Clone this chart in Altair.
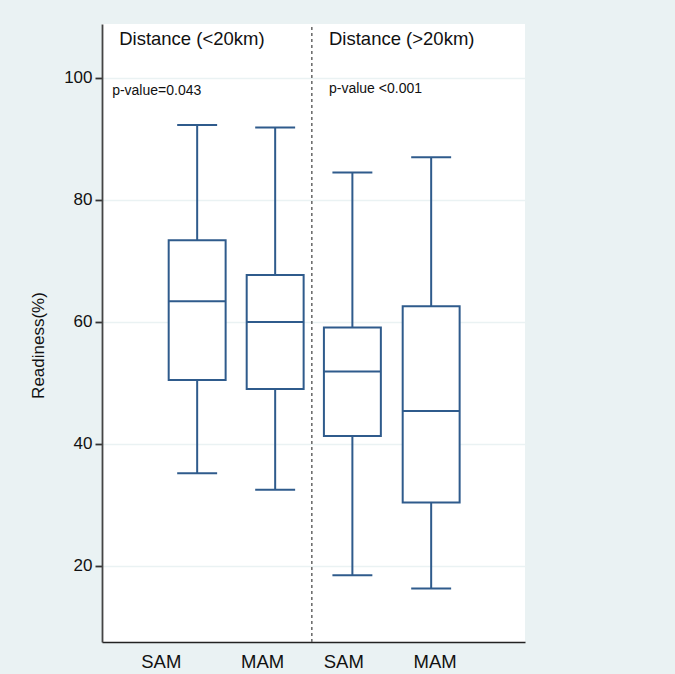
import altair as alt
import pandas as pd

# Box-plot summaries of readiness (%) by malnutrition type and distance
groups = ["SAM", "MAM", "SAM", "MAM"]
distance = ["Distance (<20km)", "Distance (<20km)", "Distance (>20km)", "Distance (>20km)"]
whisker_low = [35.2, 32.5, 18.5, 16.3]
q1 = [50.5, 49.0, 41.3, 30.4]
median = [63.4, 60.0, 51.9, 45.4]
q3 = [73.4, 67.7, 59.1, 62.6]
whisker_high = [92.3, 91.9, 84.5, 87.0]

panels = ["Distance (<20km)", "Distance (>20km)"]
p_values = ["p-value=0.043", "p-value <0.001"]
y_ticks = [20, 40, 60, 80, 100]

# Layout on the horizontal axis (slot units)
box_pos = [1.22, 2.22, 3.21, 4.22]
label_pos = [0.76, 2.06, 3.10, 4.27]
panel_text_pos = [0.22, 2.91]
pvalue_text_pos = [0.13, 2.91]
divider_pos = 2.69
BOX_HALF = 0.365
CAP_HALF = 0.256

X_DOMAIN = [0, 5.423]
Y_DOMAIN = [7.54, 108.85]

NAVY = "#2f5b8c"
BG = "#eaf2f3"

boxes = pd.DataFrame({
    "group": groups, "distance": distance, "pos": box_pos,
    "low": whisker_low, "q1": q1, "median": median, "q3": q3, "high": whisker_high,
})
boxes["box_l"] = boxes["pos"] - BOX_HALF
boxes["box_r"] = boxes["pos"] + BOX_HALF
boxes["cap_l"] = boxes["pos"] - CAP_HALF
boxes["cap_r"] = boxes["pos"] + CAP_HALF

xs = alt.Scale(domain=X_DOMAIN, nice=False, zero=False)
ys = alt.Scale(domain=Y_DOMAIN, nice=False, zero=False)

base = alt.Chart(boxes)

x_axis = alt.Axis(labels=False, ticks=False, grid=False, title=None,
                  domainColor="#222222", domainWidth=1.6)
y_axis = alt.Axis(values=y_ticks, title="Readiness(%)", grid=True, gridColor=BG,
                  gridWidth=1.3, domainColor="#444444", domainWidth=1.8,
                  tickColor="#333333", tickWidth=1.8, tickSize=7, labelPadding=3,
                  labelFontSize=17, labelColor="#111111", labelFont="Liberation Sans",
                  titleFont="Liberation Sans", titleFontSize=17, titleFontWeight="normal",
                  titleColor="#111111", titlePadding=16, titleY=321)

whisk_up = base.mark_rule(color=NAVY, strokeWidth=2).encode(
    x=alt.X("pos:Q", scale=xs, axis=x_axis),
    y=alt.Y("q3:Q", scale=ys, axis=y_axis),
    y2="high:Q",
)
whisk_down = base.mark_rule(color=NAVY, strokeWidth=2).encode(
    x=alt.X("pos:Q", scale=xs), y=alt.Y("low:Q", scale=ys), y2="q1:Q",
)
cap_top = base.mark_rule(color=NAVY, strokeWidth=2).encode(
    x=alt.X("cap_l:Q", scale=xs), x2="cap_r:Q", y=alt.Y("high:Q", scale=ys),
)
cap_bot = base.mark_rule(color=NAVY, strokeWidth=2).encode(
    x=alt.X("cap_l:Q", scale=xs), x2="cap_r:Q", y=alt.Y("low:Q", scale=ys),
)
box = base.mark_bar(fill="white", stroke=NAVY, strokeWidth=2, strokeJoin="miter").encode(
    x=alt.X("box_l:Q", scale=xs), x2="box_r:Q",
    y=alt.Y("q1:Q", scale=ys), y2="q3:Q",
)
med = base.mark_rule(color=NAVY, strokeWidth=2).encode(
    x=alt.X("box_l:Q", scale=xs), x2="box_r:Q", y=alt.Y("median:Q", scale=ys),
)

divider = alt.Chart(pd.DataFrame({"x": [divider_pos], "y0": [Y_DOMAIN[0]], "y1": [Y_DOMAIN[1]]})).mark_rule(
    color="#666666", strokeWidth=1.5, strokeDash=[3, 3]
).encode(x=alt.X("x:Q", scale=xs), y=alt.Y("y0:Q", scale=ys), y2="y1:Q")

panel_df = pd.DataFrame({"text": panels, "x": panel_text_pos, "y": [106.4, 106.4]})
panel_text = alt.Chart(panel_df).mark_text(
    align="left", baseline="middle", font="Liberation Sans", fontSize=18.5, color="#111111"
).encode(x=alt.X("x:Q", scale=xs), y=alt.Y("y:Q", scale=ys), text="text:N")

pv_df = pd.DataFrame({"text": p_values, "x": pvalue_text_pos, "y": [97.9, 98.2]})
pv_text = alt.Chart(pv_df).mark_text(
    align="left", baseline="middle", font="Liberation Sans", fontSize=14, color="#111111"
).encode(x=alt.X("x:Q", scale=xs), y=alt.Y("y:Q", scale=ys), text="text:N")

lab_df = pd.DataFrame({"text": groups, "x": label_pos, "y": [4.3] * 4})
x_labels = alt.Chart(lab_df).mark_text(
    align="center", baseline="middle", font="Liberation Sans", fontSize=18.5, color="#111111"
).encode(x=alt.X("x:Q", scale=xs), y=alt.Y("y:Q", scale=ys), text="text:N")

chart = alt.layer(
    whisk_up, whisk_down, cap_top, cap_bot, box, med, divider, panel_text, pv_text, x_labels
).properties(
    width=423, height=618,
    autosize=alt.AutoSizeParams(type="none"),
    padding={"left": 102, "top": 24, "right": 150, "bottom": 32},
    background=BG,
).configure_view(fill="white", stroke=None)

chart.save("out.html", embed_options={"renderer": "svg", "actions": False})
